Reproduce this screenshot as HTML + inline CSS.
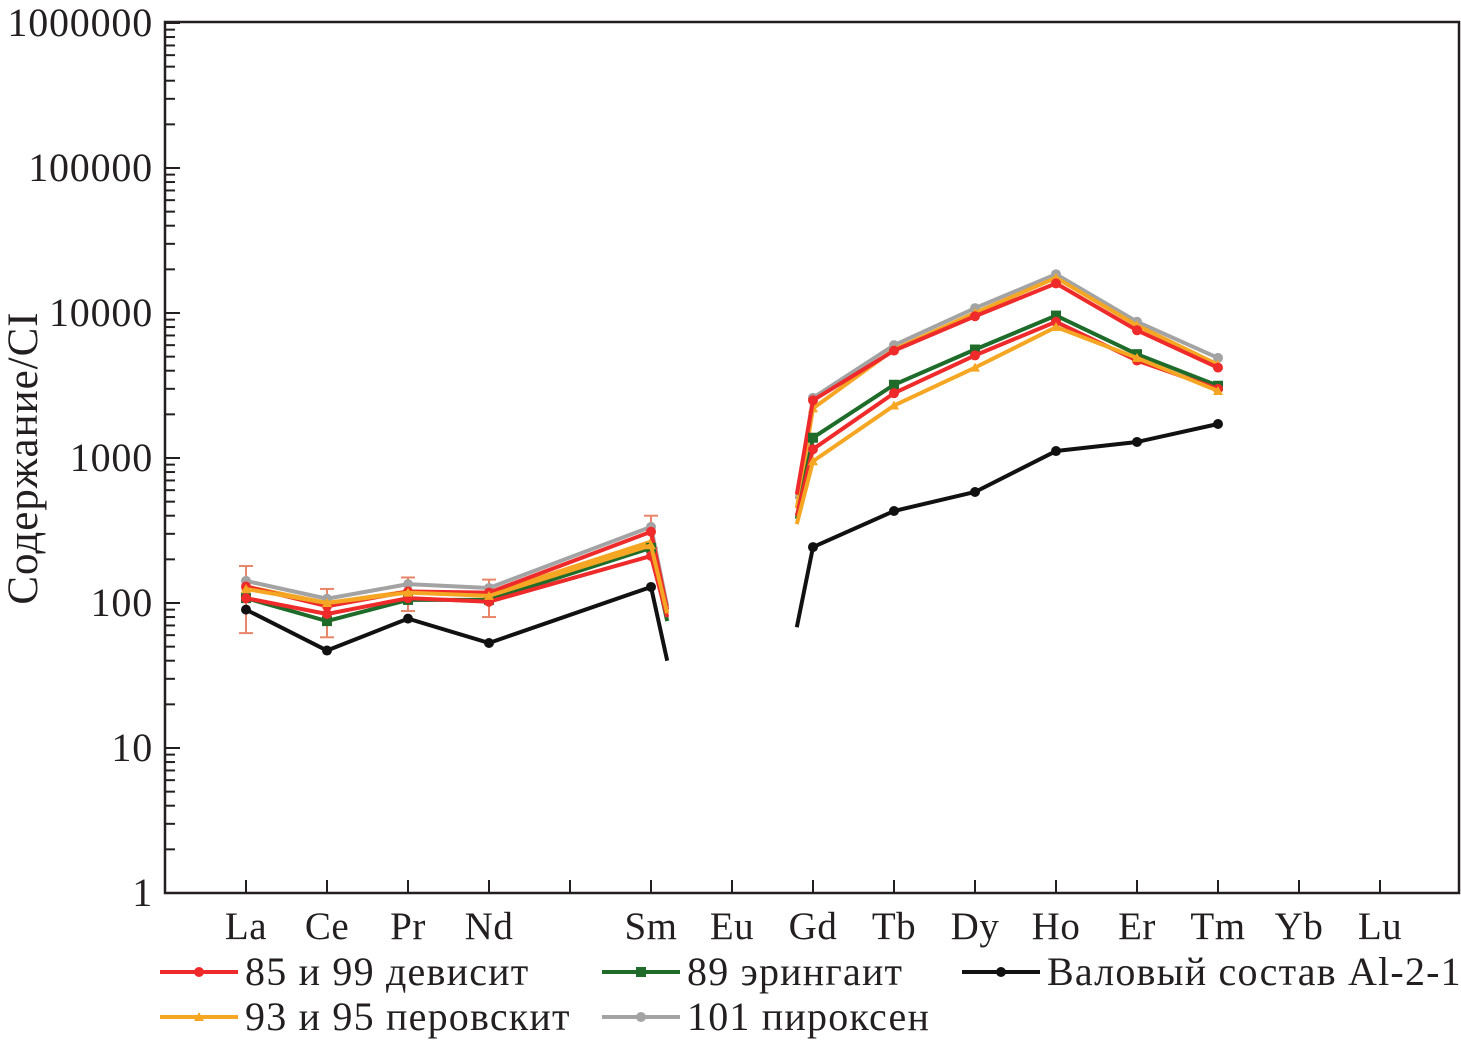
<!DOCTYPE html>
<html><head><meta charset="utf-8"><style>
body{margin:0;background:#fff;}
svg{display:block;font-family:"Liberation Serif","DejaVu Serif",serif;}
</style></head><body>
<svg id="chart" width="1461" height="1042" viewBox="0 0 1461 1042" xmlns="http://www.w3.org/2000/svg"></svg>
<script>
const categories=["La","Ce","Pr","Nd","Pm","Sm","Eu","Gd","Tb","Dy","Ho","Er","Tm","Yb","Lu"];
const catLabels=["La","Ce","Pr","Nd","","Sm","Eu","Gd","Tb","Dy","Ho","Er","Tm","Yb","Lu"];
const yTicks=[1,10,100,1000,10000,100000,1000000];
const lightCats=["La","Ce","Pr","Nd","Sm"];
const heavyCats=["Gd","Tb","Dy","Ho","Er","Tm"];
const red1Light=[130,95,120,118,310], red1Tail=90, red1Lead=560, red1Heavy=[2500,5500,9500,16000,7600,4200];
const red2Light=[108,84,108,102,211], red2Tail=80, red2Lead=400, red2Heavy=[1150,2800,5100,8700,4700,3000];
const greenLight=[108,75,105,105,240], greenTail=75, greenLead=380, greenHeavy=[1380,3200,5600,9600,5200,3150];
const orange1Light=[130,100,120,115,265], orange1Tail=85, orange1Lead=450, orange1Heavy=[2200,5600,10000,17500,8200,4400];
const orange2Light=[125,100,118,112,250], orange2Tail=85, orange2Lead=350, orange2Heavy=[950,2300,4200,8000,4900,2900];
const grayLight=[142,107,135,127,335], grayTail=95, grayLead=520, grayHeavy=[2600,6000,10800,18500,8700,4900];
const blackLight=[90,47,78,53,129], blackTail=40, blackLead=68, blackHeavy=[243,431,583,1117,1290,1716];
const errLight=[[62,180],[58,125],[88,150],[80,145],[240,400]];

const X0=246, DX=81, YB=893, DEC=145;
const xS=c=>X0+categories.indexOf(c)*DX;
const yS=v=>YB-Math.log10(v)*DEC;
const svg=document.getElementById('chart');
const NS="http://www.w3.org/2000/svg";
function mk(t,a,p){const e=document.createElementNS(NS,t);for(const k in a)e.setAttribute(k,a[k]);(p||svg).appendChild(e);return e;}

const frame=mk('rect',{x:165,y:22,width:1294,height:871,fill:'none',stroke:'#231f20','stroke-width':2.5});


const yAxis=mk('g',{});


yTicks.forEach((v,i)=>{
  const y=yS(v);
  mk('line',{x1:165,x2:180,y1:y,y2:y,stroke:'#231f20','stroke-width':2},yAxis);
  const t=mk('text',{x:153,y:y+13,'text-anchor':'end','font-size':40,'letter-spacing':0.8,fill:'#231f20'},yAxis);
  t.textContent=String(v);
  
  
  if(i<yTicks.length-1){for(let m=2;m<10;m++){const ym=yS(v*m);mk('line',{x1:165,x2:175,y1:ym,y2:ym,stroke:'#231f20','stroke-width':2},yAxis);}}
});
const xAxis=mk('g',{});


categories.forEach((c,i)=>{
  const x=xS(c);
  mk('line',{x1:x,x2:x,y1:YB,y2:YB-13,stroke:'#231f20','stroke-width':2},xAxis);
  if(catLabels[i]){const t=mk('text',{x:x,y:939,'text-anchor':'middle','font-size':39,'letter-spacing':0.5,fill:'#231f20'},xAxis);t.textContent=catLabels[i];
  
  }
});
const yt=mk('text',{x:0,y:0,transform:'translate(37,458) rotate(-90)','text-anchor':'middle','font-size':43,'letter-spacing':1,fill:'#231f20'});
yt.textContent='Содержание/CI';



const eg=mk('g',{});


errLight.forEach((r,i)=>{const x=xS(lightCats[i]);
  mk('line',{x1:x,x2:x,y1:yS(r[0]),y2:yS(r[1]),stroke:'#e8866a','stroke-width':2},eg);
  mk('line',{x1:x-7,x2:x+7,y1:yS(r[0]),y2:yS(r[0]),stroke:'#e8866a','stroke-width':2},eg);
  mk('line',{x1:x-7,x2:x+7,y1:yS(r[1]),y2:yS(r[1]),stroke:'#e8866a','stroke-width':2},eg);});

function marker(g,type,x,y,col){
  if(type==='circle')return mk('circle',{cx:x,cy:y,r:5,fill:col},g);
  if(type==='square')return mk('rect',{x:x-5,y:y-5,width:10,height:10,fill:col},g);
  if(type==='tri')return mk('path',{d:`M${x},${y-5}L${x+5},${y+4}L${x-5},${y+4}Z`,fill:col},g);
}
function series(name,col,type,light,tail,lead,heavy){
  const g=mk('g',{});
  
  
  const xSm=xS('Sm'), xGd=xS('Gd');
  const p1=light.map((v,i)=>[xS(lightCats[i]),yS(v)]);
  p1.push([xSm+0.2*DX,yS(tail)]);
  const p2=[[xGd-0.2*DX,yS(lead)]].concat(heavy.map((v,i)=>[xS(heavyCats[i]),yS(v)]));
  [p1,p2].forEach(p=>mk('polyline',{points:p.map(q=>q.join(',')).join(' '),fill:'none',stroke:col,'stroke-width':4,'stroke-linejoin':'round'},g));
  p1.slice(0,-1).concat(p2.slice(1)).forEach(q=>marker(g,type,q[0],q[1],col));
}
series('series-pyroxene-101','#a3a3a3','circle',grayLight,grayTail,grayLead,grayHeavy);
series('series-perovskite-upper','#f5a623','tri',orange1Light,orange1Tail,orange1Lead,orange1Heavy);
series('series-devisite-upper','#ee2a2a','circle',red1Light,red1Tail,red1Lead,red1Heavy);
series('series-eringaite-89','#1e6b2a','square',greenLight,greenTail,greenLead,greenHeavy);
series('series-devisite-lower','#ee2a2a','circle',red2Light,red2Tail,red2Lead,red2Heavy);
series('series-perovskite-lower','#f5a623','tri',orange2Light,orange2Tail,orange2Lead,orange2Heavy);
series('series-bulk-al-2-1','#111','circle',blackLight,blackTail,blackLead,blackHeavy);

const legend=[["legend-devisite",'#ee2a2a','circle',160,972,'85 и 99 девисит'],
["legend-eringaite",'#1e6b2a','square',602,972,'89 эрингаит'],
["legend-bulk",'#111','circle',962,972,'Валовый состав Al-2-1'],
["legend-perovskite",'#f5a623','tri',160,1017,'93 и 95 перовскит'],
["legend-pyroxene",'#a3a3a3','circle',602,1017,'101 пироксен']];
legend.forEach(l=>{
  const g=mk('g',{});
  
  
  mk('line',{x1:l[3],x2:l[3]+78,y1:l[4],y2:l[4],stroke:l[1],'stroke-width':4},g);
  marker(g,l[2],l[3]+39,l[4],l[1]);
  const t=mk('text',{x:l[3]+85,y:l[4]+13,'font-size':40,'letter-spacing':1.2,fill:'#231f20'},g);
  t.textContent=l[5];
});
</script>
</body></html>
